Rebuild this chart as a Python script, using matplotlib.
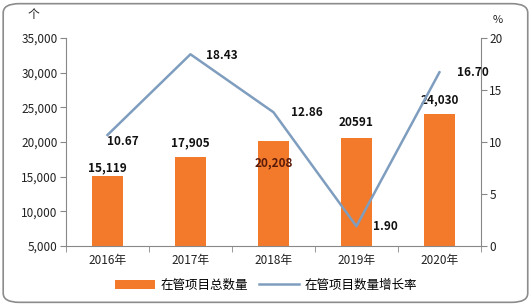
import matplotlib
matplotlib.use("Agg")
import matplotlib.pyplot as plt
from matplotlib.patches import FancyBboxPatch, Patch
from matplotlib.lines import Line2D
import numpy as np

plt.rcParams['font.family'] = ['Noto Sans CJK SC', 'DejaVu Sans']

categories = ["2016年", "2017年", "2018年", "2019年", "2020年"]
totals = [15119, 17905, 20208, 20591, 24030]
total_labels = ["15,119", "17,905", "20,208", "20591", "24,030"]
growth = [10.67, 18.43, 12.86, 1.90, 16.70]
growth_labels = ["10.67", "18.43", "12.86", "1.90", "16.70"]

fig = plt.figure(figsize=(5.32, 3.06), dpi=100)
fig.patch.set_facecolor("white")
border = FancyBboxPatch((0.006, 0.012), 0.986, 0.976, boxstyle="round,pad=0,rounding_size=0.03",
                        transform=fig.transFigure, fill=False, edgecolor="#8c8c8c", linewidth=1.2)
fig.patches.append(border)

ax = fig.add_axes([0.124, 0.196, 0.780, 0.680])
x = np.arange(len(categories))
bar_color = "#F27A2A"
ax.bar(x, [t - 5000 for t in totals], bottom=5000, width=0.37, color=bar_color, zorder=2)
ax.set_xlim(-0.5, len(categories) - 0.5)
ax.set_ylim(5000, 35000)
ax.set_yticks(range(5000, 35001, 5000))
ax.set_yticklabels([f"{v:,}" for v in range(5000, 35001, 5000)], fontsize=8.5, color="#222222")
ax.set_xticks(x)
ax.set_xticklabels(categories, fontsize=8.5, color="#222222")
ax.set_xticks(np.arange(-0.5, len(categories), 1), minor=True)
ax.tick_params(axis="x", which="major", length=0, pad=6)
ax.tick_params(axis="x", which="minor", length=4, color="#888888")
ax.tick_params(axis="y", length=4, color="#888888", pad=2)
for s in ["top", "right"]:
    ax.spines[s].set_visible(False)
ax.spines["left"].set_color("#888888")
ax.spines["bottom"].set_color("#888888")

# label vertical offsets (data units, centre of text relative to bar top)
bar_label_dy = [1150, 1950, -3200, 2160, 2000]
for i, (t, lab) in enumerate(zip(totals, total_labels)):
    color = "#5a1a0a" if i == 2 else "#111111"
    ax.text(x[i], t + bar_label_dy[i], lab, ha="center", va="center", fontsize=8.5,
            fontweight="bold", color=color, zorder=4)

ax2 = ax.twinx()
line_color = "#7F9DBE"
ax2.plot(x, growth, color=line_color, linewidth=1.8, zorder=3)
ax2.set_ylim(0, 20)
ax2.set_yticks(range(0, 21, 5))
ax2.set_yticklabels([str(v) for v in range(0, 21, 5)], fontsize=8.5, color="#222222")
ax2.tick_params(axis="y", length=4, color="#888888", pad=2)
for s in ["top", "left", "bottom"]:
    ax2.spines[s].set_visible(False)
ax2.spines["right"].set_color("#888888")

g_pos = [(0.0, -0.65), (0.19, -0.1), (0.21, -0.05), (0.2, -0.05), (0.21, -0.05)]
for i, (g, lab) in enumerate(zip(growth, growth_labels)):
    dx, dy = g_pos[i]
    ax2.text(x[i] + dx, g + dy, lab, ha="left", va="center", fontsize=8.5, fontweight="bold",
             color="#111111", zorder=5)

fig.text(0.062, 0.953, "个", ha="center", va="center", fontsize=8.5, color="#222222")
fig.text(0.935, 0.935, "%", ha="center", va="center", fontsize=8, color="#222222")

handles = [Patch(facecolor=bar_color, edgecolor="none"),
           Line2D([0], [0], color=line_color, linewidth=1.8)]
fig.legend(handles, ["在管项目总数量", "在管项目数量增长率"], loc="center", bbox_to_anchor=(0.5, 0.067),
           ncol=2, frameon=False, fontsize=9, handlelength=3.2, handleheight=0.8, columnspacing=0.8,
           handletextpad=0.5)

fig.savefig("out.png", dpi=100, facecolor="white")
